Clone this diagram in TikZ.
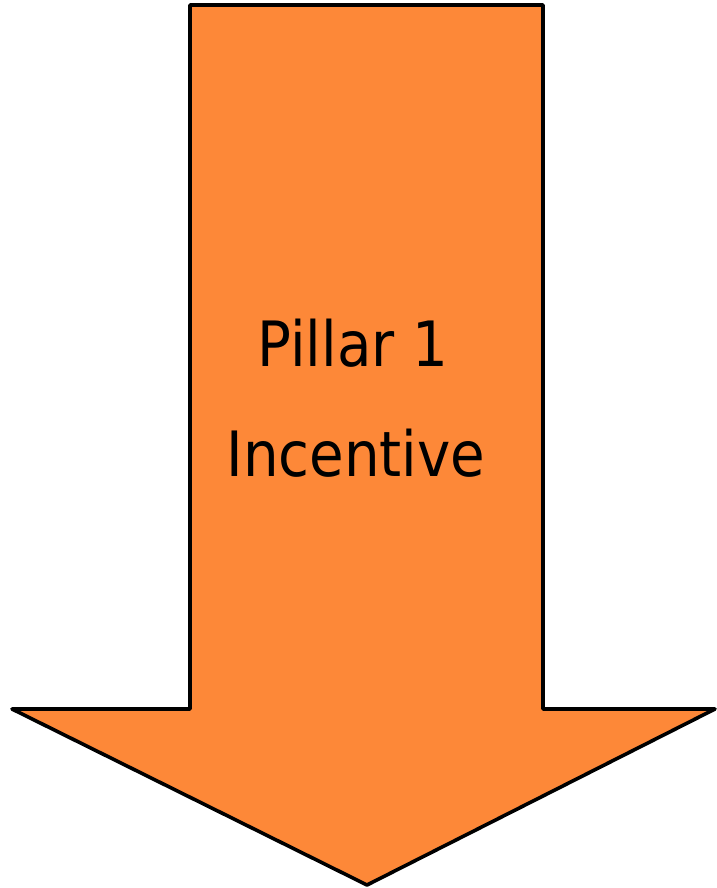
\documentclass[tikz,border=0pt]{standalone}
\usepackage{fontspec}
\setmainfont{DejaVu Sans Condensed}
\definecolor{arroworange}{RGB}{253,136,56}
\tikzset{
  bigarrow/.style={draw=black, line width=3.6pt, fill=arroworange, line join=round},
  label/.style={font=\fontsize{62.5}{74}\selectfont, text=black, inner sep=0pt, anchor=base}
}
\begin{document}
\begin{tikzpicture}[x=1pt,y=-1pt]
\useasboundingbox (0,0) rectangle (716,888);
\draw[bigarrow] (190,5) -- (543,5) -- (543,709) -- (715,709) -- (367,885) -- (12,709) -- (190,709) -- cycle;
\node[label] (l1) at (353,366) {Pillar 1};
\node[label] (l2) at (356,476) {Incentive};
\end{tikzpicture}
\end{document}
